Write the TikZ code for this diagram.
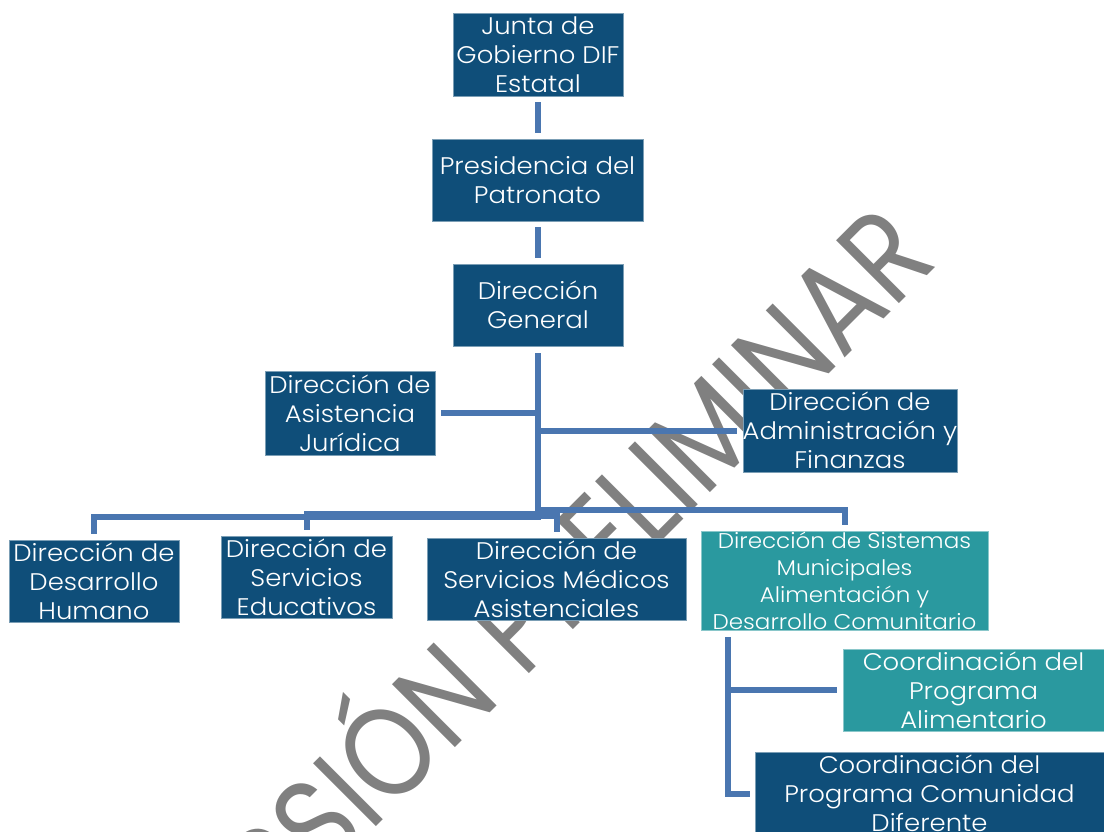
\documentclass[tikz,border=0pt]{standalone}
\usepackage{fontspec}
\setmainfont{Poppins}[UprightFont=* Light, FakeStretch=1.08]
\newfontfamily\markfont{Poppins}
\usetikzlibrary{calc}

\definecolor{orgblue}{HTML}{0F4E79}
\definecolor{orgteal}{HTML}{2A999F}
\definecolor{linkblue}{HTML}{4A76B0}
\definecolor{markgray}{HTML}{808080}

\newsavebox\markbox
\newcommand\marksize{\markfont\fontsize{100}{100}\selectfont}

% \orgunit[text options]{name}{fill style}{cx}{cy}{width}{height}{text}
\newcommand\orgunit[8][]{%
  \node[#3, minimum width=#6*0.75pt, minimum height=#7*0.75pt] (#2) at (#4,#5) {};
  \node[unittext, #1] (#2-text) at (#2.center) {#8};
}

\begin{document}
% watermark scale: "PRELIMINAR" spans 442pt with a 66.75pt cap height
\sbox\markbox{\marksize PRELIMINAR}%
\edef\markwd{\the\wd\markbox}%
\edef\markht{\the\ht\markbox}%
\pgfmathsetmacro\markx{442/\markwd}%
\pgfmathsetmacro\marky{66.75/\markht}%
\begin{tikzpicture}[x=0.75pt, y=-0.75pt,
  unitbox/.style={rectangle, inner sep=0pt, line width=0.6pt},
  darkunit/.style={unitbox, fill=orgblue, draw=orgblue!55!white},
  tealunit/.style={unitbox, fill=orgteal, draw=orgteal!55!white},
  unittext/.style={inner sep=0pt, text=white, align=center,
    font=\fontsize{18}{21.75}\selectfont},
  smalltext/.style={font=\fontsize{16}{20.25}\selectfont},
  link/.style={draw=linkblue, line width=4.5pt},
  watermark/.style={inner sep=0pt, text=markgray, rotate=45, anchor=base east}]

\clip (0,0) rectangle (1104,832);

% watermark behind the chart
\node[watermark] (mark) at (940,263)
  {\scalebox{\markx}[\marky]{\marksize VERSIÓN PRELIMINAR}};

% units
\orgunit{junta}{darkunit}{538}{54.5}{170}{83}{Junta de\\Gobierno DIF\\Estatal}
\orgunit{presid}{darkunit}{537.5}{180}{211}{82}{Presidencia del\\Patronato}
\orgunit{general}{darkunit}{538}{305}{170}{82}{Dirección\\General}
\orgunit{juridica}{darkunit}{350}{413}{170}{84}{Dirección de\\Asistencia\\Jurídica}
\orgunit{admin}{darkunit}{850}{430.5}{214}{83}{Dirección de\\Administración y\\Finanzas}
\orgunit{desarrollo}{darkunit}{94}{581}{170}{82}{Dirección de\\Desarrollo\\Humano}
\orgunit{educ}{darkunit}{306.5}{577}{171}{82}{Dirección de\\Servicios\\Educativos}
\orgunit{medicos}{darkunit}{556.5}{579}{259}{82}{Dirección de\\Servicios Médicos\\Asistenciales}
\orgunit[smalltext]{sistemas}{tealunit}{844.5}{580.5}{287}{99}{Dirección de Sistemas\\Municipales\\Alimentación y\\Desarrollo Comunitario}
\orgunit{alim}{tealunit}{973.5}{690}{261}{82}{Coordinación del\\Programa\\Alimentario}
\orgunit{comun}{darkunit}{929.5}{793.5}{349}{83}{Coordinación del\\Programa Comunidad\\Diferente}

% bus levels below the general direction
\coordinate (bus-desarrollo) at (538,517);
\coordinate (bus-educ) at (538,514);
\coordinate (bus-medicos) at (538,516);
\coordinate (bus-sistemas) at (538,510);

% connectors
\draw[link] ([yshift=-4.5pt]junta.south) -- ([yshift=4.5pt]junta.south |- presid.north);
\draw[link] ([yshift=-4.5pt]presid.south) -- ([yshift=4.5pt]presid.south |- general.north);
\draw[link] ([xshift=4.5pt]juridica.east) -- (juridica.east -| general.south);
\draw[link] ([xshift=-4.5pt]admin.west) -- (admin.west -| general.south);
\draw[link] ([yshift=-5.25pt]general.south) -- (bus-desarrollo) -| ([yshift=4.5pt]desarrollo.north);
\draw[link] ([yshift=-5.25pt]general.south) -- (bus-educ) -| ([yshift=4.5pt]educ.north);
\draw[link] ([yshift=-5.25pt]general.south) -- (bus-medicos) -| ([yshift=4.5pt]medicos.north);
\draw[link] ([yshift=-5.25pt]general.south) -- (bus-sistemas) -| ([yshift=4.5pt]sistemas.north);
\draw[link] ([xshift=27*0.75pt, yshift=-5.25pt]sistemas.south west) |- ([xshift=-4.5pt]alim.west);
\draw[link] ([xshift=27*0.75pt, yshift=-5.25pt]sistemas.south west) |- ([xshift=-3.75pt]comun.west);

\end{tikzpicture}
\end{document}
